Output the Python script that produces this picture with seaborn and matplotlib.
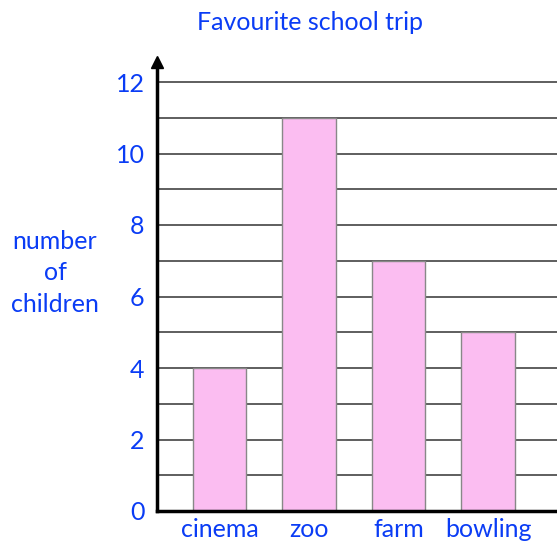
import numpy as np
import pandas as pd
import matplotlib

matplotlib.use("Agg")
import matplotlib.pyplot as plt
import seaborn as sns

# data
trips = ['cinema', 'zoo', 'farm', 'bowling']
children = [4, 11, 7, 5]
y_ticks = [0, 2, 4, 6, 8, 10, 12]

blue = '#0a3cf5'
pink = '#fbbdf1'

sns.set_style('white')
plt.rcParams['font.family'] = ['Lato', 'DejaVu Sans']

df = pd.DataFrame({'trip': trips, 'children': children})

fig = plt.figure(figsize=(5.57, 5.45), dpi=100)
ax = fig.add_axes([157 / 557, 1 - 511 / 545, 1 - 157 / 557, (511 - 62) / 545])

# grid lines every child, drawn under the bars
for k in range(1, 13):
    ax.axhline(k, color='#333333', lw=1.1, zorder=0)

sns.barplot(data=df, x='trip', y='children', color=pink, width=0.6,
            edgecolor='#888888', linewidth=1, saturation=1, ax=ax, zorder=2)

ax.set_xlim(-0.7, 3.77)
ax.set_ylim(0, (511 - 62) / 35.75)

for s in ['top', 'right']:
    ax.spines[s].set_visible(False)
ax.spines['left'].set_linewidth(2.5)
ax.spines['bottom'].set_linewidth(2.5)
ax.spines['left'].set_color('black')
ax.spines['bottom'].set_color('black')
ax.spines['left'].set_zorder(5)
ax.spines['bottom'].set_zorder(5)

# arrow head on y axis
ax.plot(0, 1, marker='^', color='black', markersize=9, transform=ax.transAxes,
        clip_on=False, zorder=6)

ax.set_yticks(y_ticks)
ax.set_yticklabels([str(v) for v in y_ticks], color=blue, fontsize=18)
ax.tick_params(axis='y', length=0, pad=9)
ax.tick_params(axis='x', length=0, pad=5, labelsize=18, labelcolor=blue)
ax.set_xlabel('')
ax.set_ylabel('')

fig.text(55 / 557, 1 - 273 / 545, 'number\nof\nchildren', color=blue, fontsize=18,
         ha='center', va='center', linespacing=1.45)
fig.text(310 / 557, 1 - 22 / 545, 'Favourite school trip', color=blue, fontsize=18,
         ha='center', va='center')

fig.savefig('out.png', dpi=100)
